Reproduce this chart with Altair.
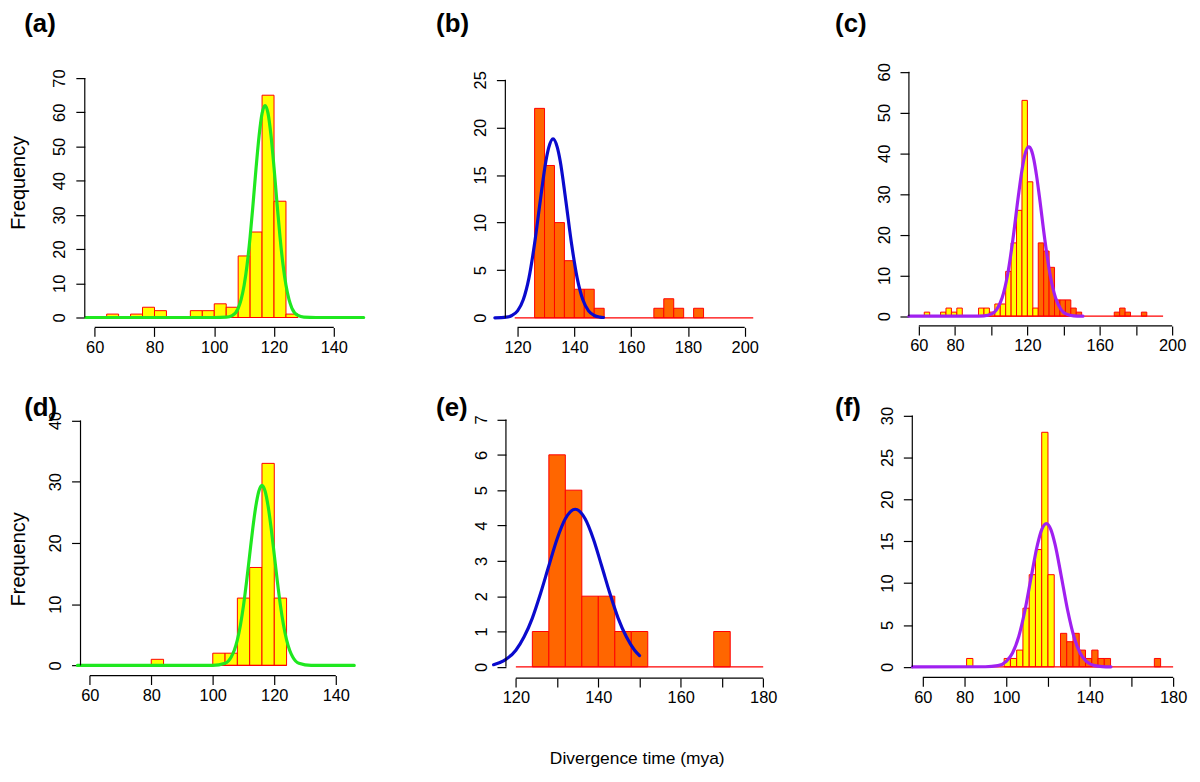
import altair as alt
import pandas as pd

FONT = "Liberation Sans"
YELLOW = "#FFFF00"
ORANGE = "#FF6600"
RED = "#FF0000"
GREEN = "#1FE81F"
BLUE = "#0A0ACD"
PURPLE = "#A020F0"

# ---------------- data ----------------
# (a)
a_yellow_left = [64, 72, 76, 80, 92, 96, 100, 104, 108, 112, 116, 120, 124]
a_yellow_counts = [1, 1, 3, 2, 2, 2, 4, 3, 18, 25, 65, 34, 1]
a_orange_left = []
a_orange_counts = []
a_bin_width = 4
a_hist_range = [64, 128]
a_curve_x = [57, 100, 104, 106, 108, 109, 110, 111, 112, 113, 114, 115, 116, 117,
             118, 119, 120, 121, 122, 123, 124, 125, 126, 128, 130, 134, 150]
a_curve_y = [0, 0, 0.09, 0.58, 2.7, 5.3, 9.4, 15.5, 23.6, 33.4, 43.8, 53.1, 59.7, 62,
             59.7, 53.1, 43.8, 33.4, 23.6, 15.5, 9.4, 5.3, 2.7, 0.6, 0.09, 0, 0]
a_xticks = [60, 80, 100, 120, 140]
a_xlabels = [60, 80, 100, 120, 140]
a_yticks = [0, 10, 20, 30, 40, 50, 60, 70]

# (b)
b_yellow_left = []
b_yellow_counts = []
b_orange_left = [126, 129.5, 133, 136.5, 140, 143.5, 147, 168, 171.5, 175, 182]
b_orange_counts = [22, 16, 10, 6, 3, 3, 1, 1, 2, 1, 1]
b_bin_width = 3.5
b_hist_range = [119, 203]
b_curve_x = [112, 116, 118, 120, 122, 124, 126, 128, 130, 131, 132.5, 134, 135, 137,
             139, 141, 143, 145, 147, 149, 150.3]
b_curve_y = [0.0, 0.07, 0.24, 0.73, 1.89, 4.17, 7.8, 12.3, 16.5, 17.9, 18.8, 17.9, 16.5,
             12.3, 7.8, 4.17, 1.89, 0.73, 0.24, 0.07, 0.03]
b_xticks = [120, 140, 160, 180, 200]
b_xlabels = [120, 140, 160, 180, 200]
b_yticks = [0, 5, 10, 15, 20, 25]

# (c)
c_yellow_left = [63, 72, 75, 78, 81, 93, 96, 99, 102, 105, 108, 111, 114, 117, 120, 123]
c_yellow_counts = [1, 1, 2, 1, 2, 2, 2, 1, 3, 3, 11, 18, 26, 53, 33, 2]
c_orange_left = [126, 129, 132, 135, 138, 141, 144, 147, 168, 171, 174, 183]
c_orange_counts = [18, 16, 12, 4, 4, 4, 2, 1, 1, 2, 1, 1]
c_bin_width = 3
c_hist_range = [54, 195]
c_curve_x = [54.5, 90, 96, 100, 103, 106, 109, 112, 115, 116.5, 118, 119.4, 120.8, 122.2,
             123.6, 125.1, 126.6, 129.6, 132.6, 135.6, 138.6, 141.6, 145.6, 150.7]
c_curve_y = [0, 0, 0.08, 0.5, 1.64, 4.45, 10.05, 18.9, 29.5, 34.4, 38.4, 40.8, 41.6, 40.8,
             38.4, 34.4, 29.5, 18.9, 10.05, 4.45, 1.64, 0.5, 0.08, 0]
c_xticks = [60, 80, 100, 120, 140, 160, 180, 200]
c_xlabels = [60, 80, 120, 160, 200]
c_yticks = [0, 10, 20, 30, 40, 50, 60]

# (d)
d_yellow_left = [80, 100, 104, 108, 112, 116, 120]
d_yellow_counts = [1, 2, 2, 11, 16, 33, 11]
d_orange_left = []
d_orange_counts = []
d_bin_width = 4
d_hist_range = [80, 124]
d_curve_x = [56, 100, 104, 106, 107, 108, 109, 110, 111, 112, 113, 114, 115, 116, 117,
             118, 119, 120, 121, 122, 123, 124, 125, 126, 128, 132, 146]
d_curve_y = [0, 0.01, 0.36, 1.39, 2.49, 4.18, 6.6, 9.81, 13.72, 18.05, 22.35, 26.0, 28.5,
             29.4, 28.5, 26.0, 22.35, 18.05, 13.72, 9.81, 6.6, 4.18, 2.49, 1.39, 0.36, 0.01, 0]
d_xticks = [60, 80, 100, 120, 140]
d_xlabels = [60, 80, 100, 120, 140]
d_yticks = [0, 10, 20, 30, 40]

# (e)
e_yellow_left = []
e_yellow_counts = []
e_orange_left = [124, 128, 132, 136, 140, 144, 148, 168]
e_orange_counts = [1, 6, 5, 2, 2, 1, 1, 1]
e_bin_width = 4
e_hist_range = [120, 180]
e_curve_x = [114.6, 117, 120, 122, 124, 126, 128, 130, 132, 134.4, 136.8, 138.8, 140.8,
             142.8, 144.8, 146.8, 148.8, 150]
e_curve_y = [0.06, 0.17, 0.47, 0.85, 1.38, 2.08, 2.86, 3.62, 4.19, 4.46, 4.19, 3.62, 2.86,
             2.08, 1.38, 0.85, 0.47, 0.32]
e_xticks = [120, 130, 140, 150, 160, 170, 180]
e_xlabels = [120, 140, 160, 180]
e_yticks = [0, 1, 2, 3, 4, 5, 6, 7]

# (f)
f_yellow_left = [81, 99, 102, 105, 108, 111, 114, 117, 120]
f_yellow_counts = [1, 1, 1, 2, 7, 11, 14, 28, 11]
f_orange_left = [126, 129, 132, 135, 138, 141, 144, 147, 171]
f_orange_counts = [4, 3, 4, 2, 1, 2, 1, 1, 1]
f_bin_width = 3
f_hist_range = [57, 180]
f_curve_x = [55, 90, 96, 100, 103, 106, 109, 112, 115, 117, 119.2, 121.4, 123.4, 126.4,
             129.4, 132.4, 135.4, 138.4, 142.4, 146, 150.2]
f_curve_y = [0, 0.01, 0.14, 0.65, 1.66, 3.63, 6.78, 10.79, 14.62, 16.38, 17.1, 16.38, 14.62,
             10.79, 6.78, 3.63, 1.66, 0.65, 0.14, 0.03, 0]
f_xticks = [60, 80, 100, 120, 140, 160, 180]
f_xlabels = [60, 80, 100, 140, 180]
f_yticks = [0, 5, 10, 15, 20, 25, 30]

X_TITLE = "Divergence time (mya)"
Y_TITLE = "Frequency"

# ---------------- layout (screen pixels) ----------------
ROW_TOP = [58, 404]
COL_LEFT = [80.7, 508, 913.3]
COL_RIGHT = [378, 783.3, 1180]
TICK_FONT = 16.5


def bars_frame(yl, yc, ol, oc, w):
    rows = []
    for l, c in zip(yl, yc):
        rows.append({"x": l, "x2": l + w, "n": c, "grp": "yellow"})
    for l, c in zip(ol, oc):
        rows.append({"x": l, "x2": l + w, "n": c, "grp": "orange"})
    return pd.DataFrame(rows)


def make_panel(p):
    left, top, right, bottom = p["cell"]
    xv1, xp1, xv2, xp2 = p["xcal"]
    yv1, yp1, yv2, yp2 = p["ycal"]
    kx = (xp2 - xp1) / (xv2 - xv1)
    ky = (yp2 - yp1) / (yv2 - yv1)
    xdom = [xv1 + (left - xp1) / kx, xv1 + (right - xp1) / kx]
    ydom = [yv1 + (bottom - yp1) / ky, yv1 + (top - yp1) / ky]
    yaxis_val = xv1 + (p["axis_px"] - xp1) / kx
    xs = alt.Scale(domain=xdom, nice=False, zero=False)
    ys = alt.Scale(domain=ydom, nice=False, zero=False)

    shown = ",".join(str(v) for v in p["xlabels"])
    xaxis_kw = dict(
        values=p["xticks"],
        labelExpr="indexof([" + shown + "], datum.value) >= 0 ? datum.label : ''",
        domain=False, ticks=True, tickSize=9, tickWidth=1.2, tickColor="black",
        labelFont=FONT, labelFontSize=TICK_FONT, labelColor="black", labelPadding=3,
        labelOverlap=False, labelFlush=False, grid=False,
    )
    if p.get("xtitle"):
        xaxis_kw.update(title=p["xtitle"], titleFont=FONT, titleFontSize=17.5,
                        titleFontWeight="normal", titleColor="black",
                        titleX=p["xtitle_x"], titleY=p["xtitle_y"],
                        titleAlign="center", titleBaseline="alphabetic")
    else:
        xaxis_kw.update(title="")

    yaxis_kw = dict(
        values=p["yticks"], domain=False, ticks=True, tickSize=9, tickWidth=1.2,
        tickColor="black", labelAngle=270, labelAlign="center",
        labelBaseline="alphabetic", labelPadding=11, labelFont=FONT,
        labelFontSize=TICK_FONT, labelColor="black", labelOverlap=False,
        labelFlush=False, grid=False, offset=left - p["axis_px"],
    )
    if p.get("ytitle"):
        yaxis_kw.update(title=p["ytitle"], titleFont=FONT, titleFontSize=20,
                        titleFontWeight="normal", titleColor="black", titleAngle=270,
                        titleX=p["ytitle_x"], titleY=p["ytitle_y"],
                        titleAlign="center", titleBaseline="middle")
    else:
        yaxis_kw.update(title="")

    def X(field):
        return alt.X(field, scale=xs, axis=alt.Axis(**xaxis_kw))

    def Y(field):
        return alt.Y(field, scale=ys, axis=alt.Axis(**yaxis_kw))

    bdf = bars_frame(p["yl"], p["yc"], p["ol"], p["oc"], p["bw"])
    bars = alt.Chart(bdf).mark_rect(stroke=RED, strokeWidth=1).encode(
        x=X("x:Q"), x2="x2:Q", y=Y("n:Q"), y2=alt.datum(0),
        fill=alt.Fill("grp:N", scale=alt.Scale(domain=["yellow", "orange"],
                                               range=[YELLOW, ORANGE]), legend=None),
    )
    hr = p["range"]
    base = alt.Chart(pd.DataFrame({"x": [hr[0]], "x2": [hr[1]], "n": [0]})).mark_rule(
        color=RED, strokeWidth=1.2).encode(x=X("x:Q"), x2="x2:Q", y=Y("n:Q"))
    curve = alt.Chart(pd.DataFrame({"x": p["cx"], "n": p["cy"]})).mark_line(
        color=p["color"], strokeWidth=3.2, interpolate="monotone", strokeCap="round",
        strokeJoin="round").encode(x=X("x:Q"), y=Y("n:Q"))
    xt = p["xticks"]
    xline = alt.Chart(pd.DataFrame({"x": [xt[0]], "x2": [xt[-1]], "n": [ydom[0]]})).mark_rule(
        color="black", strokeWidth=1.2).encode(x=X("x:Q"), x2="x2:Q", y=Y("n:Q"))
    yt = p["yticks"]
    yline = alt.Chart(pd.DataFrame({"x": [yaxis_val], "n": [yt[0]], "n2": [yt[-1]]})).mark_rule(
        color="black", strokeWidth=1.2).encode(x=X("x:Q"), y=Y("n:Q"), y2="n2:Q")

    title = alt.TitleParams(text=p["label"], anchor="start", frame="group", orient="top",
                            font=FONT, fontSize=26, fontWeight="bold", color="black",
                            baseline="alphabetic", offset=p["t_off"], dx=p["t_dx"],
                            dy=p["t_dy"])
    return alt.layer(bars, base, curve, xline, yline).properties(
        width=right - left, height=bottom - top, title=title)


panels = [
    dict(label="(a)", yl=a_yellow_left, yc=a_yellow_counts, ol=a_orange_left,
         oc=a_orange_counts, bw=a_bin_width, range=a_hist_range, cx=a_curve_x,
         cy=a_curve_y, color=GREEN, xticks=a_xticks, xlabels=a_xlabels, yticks=a_yticks,
         cell=(COL_LEFT[0], ROW_TOP[0], COL_RIGHT[0], 327), xcal=(60, 95, 140, 335.7),
         ycal=(0, 317, 70, 76), axis_px=85, ytitle=Y_TITLE, ytitle_x=-67, ytitle_y=123,
         t_off=2, t_dx=-56.7, t_dy=0),
    dict(label="(b)", yl=b_yellow_left, yc=b_yellow_counts, ol=b_orange_left,
         oc=b_orange_counts, bw=b_bin_width, range=b_hist_range, cx=b_curve_x,
         cy=b_curve_y, color=BLUE, xticks=b_xticks, xlabels=b_xlabels, yticks=b_yticks,
         cell=(COL_LEFT[1], ROW_TOP[0], COL_RIGHT[1], 326.9), xcal=(120, 520, 200, 748.7),
         ycal=(0, 317.3, 25, 77.7), axis_px=507.7, t_off=2, t_dx=-70, t_dy=0),
    dict(label="(c)", yl=c_yellow_left, yc=c_yellow_counts, ol=c_orange_left,
         oc=c_orange_counts, bw=c_bin_width, range=c_hist_range, cx=c_curve_x,
         cy=c_curve_y, color=PURPLE, xticks=c_xticks, xlabels=c_xlabels, yticks=c_yticks,
         cell=(COL_LEFT[2], ROW_TOP[0], COL_RIGHT[2], 325.5), xcal=(60, 923.3, 200, 1178.3),
         ycal=(0, 315.7, 60, 69.7), axis_px=913.3, t_off=2, t_dx=-74.3, t_dy=0),
    dict(label="(d)", yl=d_yellow_left, yc=d_yellow_counts, ol=d_orange_left,
         oc=d_orange_counts, bw=d_bin_width, range=d_hist_range, cx=d_curve_x,
         cy=d_curve_y, color=GREEN, xticks=d_xticks, xlabels=d_xlabels, yticks=d_yticks,
         cell=(COL_LEFT[0], ROW_TOP[1], COL_RIGHT[0], 677.5), xcal=(60, 90, 140, 337.7),
         ycal=(0, 667.3, 40, 420.7), axis_px=80.7, ytitle=Y_TITLE, ytitle_x=-62.7,
         ytitle_y=156, t_off=0, t_dx=-56.7, t_dy=38),
    dict(label="(e)", yl=e_yellow_left, yc=e_yellow_counts, ol=e_orange_left,
         oc=e_orange_counts, bw=e_bin_width, range=e_hist_range, cx=e_curve_x,
         cy=e_curve_y, color=BLUE, xticks=e_xticks, xlabels=e_xlabels, yticks=e_yticks,
         cell=(COL_LEFT[1], ROW_TOP[1], COL_RIGHT[1], 680), xcal=(120, 518.3, 180, 767.3),
         ycal=(0, 668.7, 7, 419.7), axis_px=508.3, xtitle=X_TITLE, xtitle_x=132,
         xtitle_y=86, t_off=0, t_dx=-70, t_dy=38),
    dict(label="(f)", yl=f_yellow_left, yc=f_yellow_counts, ol=f_orange_left,
         oc=f_orange_counts, bw=f_bin_width, range=f_hist_range, cx=f_curve_x,
         cy=f_curve_y, color=PURPLE, xticks=f_xticks, xlabels=f_xlabels, yticks=f_yticks,
         cell=(COL_LEFT[2], ROW_TOP[1], COL_RIGHT[2], 679.3), xcal=(60, 927.3, 180, 1179.3),
         ycal=(0, 668.7, 30, 415.7), axis_px=916.7, t_off=0, t_dx=-74.3, t_dy=38),
]

charts = [make_panel(p) for p in panels]

row_gap = ROW_TOP[1] - 327
col_gap = COL_LEFT[1] - COL_RIGHT[0]

chart = alt.concat(
    *charts, columns=3, spacing={"row": row_gap, "column": col_gap},
    align="each", bounds="flush",
).properties(
    padding={"left": 0, "top": 1, "right": 5, "bottom": 5}, background="white"
).configure(font=FONT).configure_view(stroke=None)

chart.save("out.html", embed_options={"renderer": "svg", "actions": False})
